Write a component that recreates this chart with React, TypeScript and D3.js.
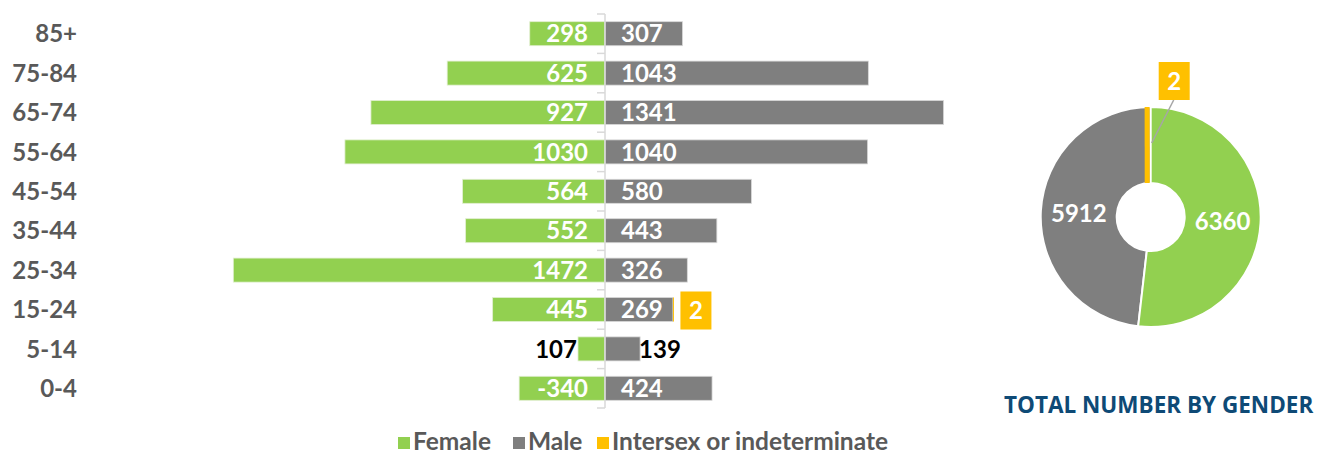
import React, { useEffect, useRef } from 'react';
import * as d3 from 'd3';

const ageGroups = ['85+', '75-84', '65-74', '55-64', '45-54', '35-44', '25-34', '15-24', '5-14', '0-4'];
const femaleValues = [298, 625, 927, 1030, 564, 552, 1472, 445, 107, 340];
const femaleLabels = ['298', '625', '927', '1030', '564', '552', '1472', '445', '107', '-340'];
const maleValues = [307, 1043, 1341, 1040, 580, 443, 326, 269, 139, 424];
const intersexValues = [0, 0, 0, 0, 0, 0, 0, 2, 0, 0];

const genderNames = ['Female', 'Male', 'Intersex or indeterminate'];
const genderTotals = [6360, 5912, 2];
const genderColors = ['#92D050', '#7F7F7F', '#FFC000'];

const App = () => {
  const svgRef = useRef<SVGSVGElement>(null);

  useEffect(() => {
    const svg = d3.select(svgRef.current);
    svg.selectAll('*').remove();

    const font = 'Lato, "Open Sans", sans-serif';
    const labelGray = '#595959';
    const fs = '24px';

    // scales
    const x = d3.scaleLinear().domain([-1600, 1600]).range([605 - 1600 * 0.2525, 605 + 1600 * 0.2525]);
    const y = d3.scaleBand()
      .domain(ageGroups)
      .range([14, 408])
      .paddingInner(0.39)
      .paddingOuter(0.195);
    const x0 = x(0);
    const step = y.step();

    const g = svg.append('g');

    // age labels
    g.selectAll('.age')
      .data(ageGroups)
      .enter()
      .append('text')
      .attr('x', 77)
      .attr('y', d => (y(d) as number) + y.bandwidth() / 2)
      .attr('dy', '0.36em')
      .attr('text-anchor', 'end')
      .style('font-family', font)
      .style('font-weight', 700)
      .style('font-size', fs)
      .style('fill', labelGray)
      .text(d => d);

    // female bars
    g.selectAll('.fbar')
      .data(ageGroups)
      .enter()
      .append('rect')
      .attr('x', (d, i) => x(-femaleValues[i]))
      .attr('y', d => y(d) as number)
      .attr('width', (d, i) => x0 - x(-femaleValues[i]))
      .attr('height', y.bandwidth())
      .attr('fill', genderColors[0])
      .attr('stroke', '#e2efd2')
      .attr('stroke-width', 0.8);

    // male bars
    g.selectAll('.mbar')
      .data(ageGroups)
      .enter()
      .append('rect')
      .attr('x', x0)
      .attr('y', d => y(d) as number)
      .attr('width', (d, i) => x(maleValues[i]) - x0)
      .attr('height', y.bandwidth())
      .attr('fill', genderColors[1])
      .attr('stroke', '#d9d9d9')
      .attr('stroke-width', 0.8);

    // intersex bars (stacked after male)
    g.selectAll('.ibar')
      .data(ageGroups.filter((d, i) => intersexValues[i] > 0))
      .enter()
      .append('rect')
      .attr('x', d => x(maleValues[ageGroups.indexOf(d)]))
      .attr('y', d => y(d) as number)
      .attr('width', d => Math.max(1, x(maleValues[ageGroups.indexOf(d)] + intersexValues[ageGroups.indexOf(d)]) - x(maleValues[ageGroups.indexOf(d)])))
      .attr('height', y.bandwidth())
      .attr('fill', genderColors[2]);

    // axis line and ticks
    g.append('line')
      .attr('x1', x0).attr('x2', x0)
      .attr('y1', 14).attr('y2', 408)
      .attr('stroke', '#d9d9d9')
      .attr('stroke-width', 1.5);
    g.selectAll('.tick')
      .data(d3.range(ageGroups.length + 1))
      .enter()
      .append('line')
      .attr('x1', x0 - 8).attr('x2', x0)
      .attr('y1', i => 14 + i * step).attr('y2', i => 14 + i * step)
      .attr('stroke', '#d9d9d9')
      .attr('stroke-width', 1.5);

    const isSmall = (v: number) => v < 200;

    // female labels
    g.selectAll('.flab')
      .data(ageGroups)
      .enter()
      .append('text')
      .attr('x', (d, i) => isSmall(femaleValues[i]) ? x(-femaleValues[i]) - 1 : x0 - 17)
      .attr('y', d => (y(d) as number) + y.bandwidth() / 2)
      .attr('dy', '0.36em')
      .attr('text-anchor', 'end')
      .style('font-family', font)
      .style('font-weight', 700)
      .style('font-size', fs)
      .style('fill', (d, i) => isSmall(femaleValues[i]) ? '#000' : '#fff')
      .text((d, i) => femaleLabels[i]);

    // male labels
    g.selectAll('.mlab')
      .data(ageGroups)
      .enter()
      .append('text')
      .attr('x', (d, i) => isSmall(maleValues[i]) ? x(maleValues[i]) - 1 : x0 + 16)
      .attr('y', d => (y(d) as number) + y.bandwidth() / 2)
      .attr('dy', '0.36em')
      .style('font-family', font)
      .style('font-weight', 700)
      .style('font-size', fs)
      .style('fill', (d, i) => isSmall(maleValues[i]) ? '#000' : '#fff')
      .text((d, i) => maleValues[i]);

    // intersex labels (boxed)
    const iGroups = ageGroups.filter((d, i) => intersexValues[i] > 0);
    const ib = g.selectAll('.ilab')
      .data(iGroups)
      .enter()
      .append('g')
      .attr('transform', d => {
        const i = ageGroups.indexOf(d);
        return `translate(${x(maleValues[i] + intersexValues[i]) + 7},${(y(d) as number) + y.bandwidth() / 2})`;
      });
    ib.append('rect')
      .attr('x', 0).attr('y', -18)
      .attr('width', 31).attr('height', 38)
      .attr('fill', genderColors[2]);
    ib.append('text')
      .attr('x', 15.5).attr('y', 1)
      .attr('dy', '0.36em')
      .attr('text-anchor', 'middle')
      .style('font-family', font)
      .style('font-weight', 700)
      .style('font-size', fs)
      .style('fill', '#fff')
      .text(d => intersexValues[ageGroups.indexOf(d)]);

    // donut
    const cx = 1150.7, cy = 217;
    const rIn = 34, rOut = 110;
    const pie = d3.pie<number>().sort(null).value(d => d);
    const arcs = pie(genderTotals);
    const arc = d3.arc<d3.PieArcDatum<number>>().innerRadius(rIn).outerRadius(rOut);
    const dg = svg.append('g').attr('transform', `translate(${cx},${cy})`);

    [1, 0].forEach(k => {
      dg.append('path')
        .attr('d', arc(arcs[k]) as string)
        .attr('fill', genderColors[k])
        .attr('stroke', '#fff')
        .attr('stroke-width', 2);
    });
    // tiny intersex slice, drawn as a thin radial strip so it stays visible
    const ia = arcs[2];
    const midA = (ia.startAngle + ia.endAngle) / 2;
    const ox = -Math.cos(midA) * 3.5, oy = -Math.sin(midA) * 3.5;
    dg.append('line')
      .attr('x1', Math.sin(midA) * rIn + ox).attr('y1', -Math.cos(midA) * rIn + oy)
      .attr('x2', Math.sin(midA) * rOut + ox).attr('y2', -Math.cos(midA) * rOut + oy)
      .attr('stroke', genderColors[2])
      .attr('stroke-width', 5);

    [0, 1].forEach(k => {
      const [tx, ty] = arc.centroid(arcs[k]);
      dg.append('text')
        .attr('x', tx).attr('y', ty)
        .attr('dy', '0.36em')
        .attr('text-anchor', 'middle')
        .style('font-family', font)
        .style('font-weight', 700)
        .style('font-size', fs)
        .style('fill', '#fff')
        .text(genderTotals[k]);
    });

    // intersex callout on donut
    const px = Math.sin(midA) * 74 + 1, py = -Math.cos(midA) * 74;
    dg.append('line')
      .attr('x1', px).attr('y1', py)
      .attr('x2', 23).attr('y2', -117)
      .attr('stroke', '#a6a6a6')
      .attr('stroke-width', 1.5);
    dg.append('rect')
      .attr('x', 8).attr('y', -155)
      .attr('width', 31).attr('height', 38)
      .attr('fill', genderColors[2]);
    dg.append('text')
      .attr('x', 23.5).attr('y', -136)
      .attr('dy', '0.36em')
      .attr('text-anchor', 'middle')
      .style('font-family', font)
      .style('font-weight', 700)
      .style('font-size', fs)
      .style('fill', '#fff')
      .text(genderTotals[2]);

    // donut title
    svg.append('text')
      .attr('x', 1004)
      .attr('y', 405)
      .attr('dy', '0.36em')
      .style('font-family', '"Open Sans", sans-serif')
      .style('font-weight', 700)
      .style('font-size', '22.5px')
      .style('fill', '#0E4A76')
      .text('TOTAL NUMBER BY GENDER');

    // legend
    const legendX = [398, 513, 597];
    const lg = svg.selectAll('.legend')
      .data(genderNames)
      .enter()
      .append('g')
      .attr('transform', (d, i) => `translate(${legendX[i]},441)`);
    lg.append('rect')
      .attr('x', 0).attr('y', -4)
      .attr('width', 12).attr('height', 12)
      .attr('fill', (d, i) => genderColors[i]);
    lg.append('text')
      .attr('x', 15).attr('y', 0)
      .attr('dy', '0.36em')
      .style('font-family', font)
      .style('font-weight', 700)
      .style('font-size', '24.5px')
      .style('fill', labelGray)
      .text(d => d);
  }, []);

  return (
    <div>
      <svg ref={svgRef} width={1317} height={455} style={{ position: 'absolute', left: 0, top: 0 }}></svg>
    </div>
  );
};

export default App;
